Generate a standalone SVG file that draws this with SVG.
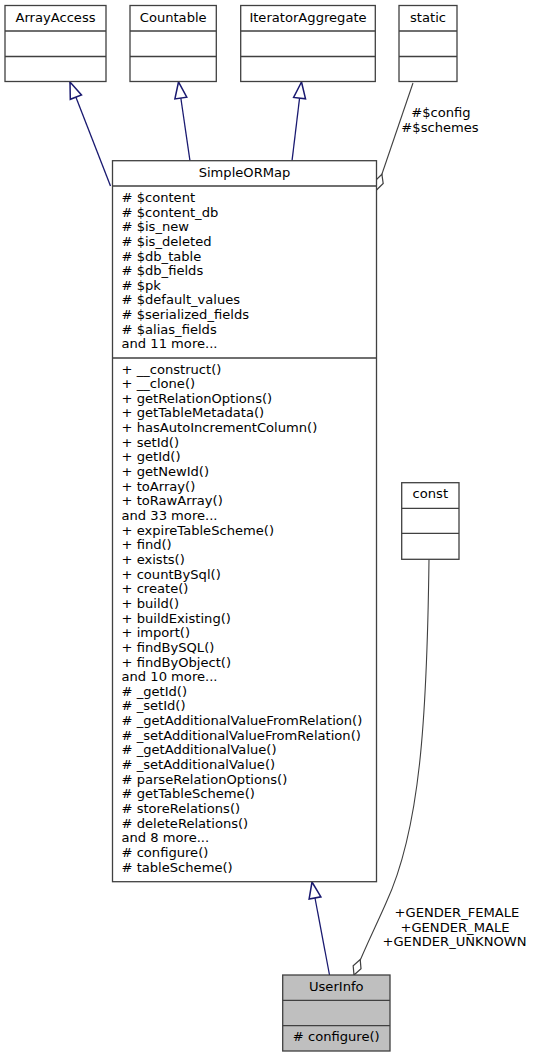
<svg xmlns="http://www.w3.org/2000/svg" width="533" height="1057" viewBox="0 0 533 1057">
<style>
text{font-family:"DejaVu Sans",sans-serif;font-size:13.1px;fill:#000}
.c{text-anchor:middle}
.box{fill:#fff;stroke:#404040;stroke-width:1.3}
.sep{stroke:#404040;stroke-width:1.3;fill:none}
.inh{fill:none;stroke:#191970;stroke-width:1.3}
.agg{fill:none;stroke:#404040;stroke-width:1.1}
</style>
<defs>
<marker id="tri" markerUnits="userSpaceOnUse" markerWidth="20" markerHeight="20" viewBox="-14 -7 16 14" refX="0" refY="0" orient="auto">
<path d="M0,0 L-13,-4.8 L-13,4.8 Z" fill="#fff" stroke="#191970" stroke-width="1.2"/>
</marker>
<marker id="dia" markerUnits="userSpaceOnUse" markerWidth="20" markerHeight="20" viewBox="-16 -6 18 12" refX="0" refY="0" orient="auto">
<path d="M0,0 L-7.5,-3.8 L-15,0 L-7.5,3.8 Z" fill="#fff" stroke="#404040" stroke-width="1.1"/>
</marker>
</defs>
<rect width="533" height="1057" fill="#fff"/>
<g id="edges">
<path class="inh" d="M110.5,186 L70,82" marker-end="url(#tri)"/>
<path class="inh" d="M190,161 L178.5,82" marker-end="url(#tri)"/>
<path class="inh" d="M292,161 L301.5,82" marker-end="url(#tri)"/>
<path class="inh" d="M329.5,975 L312,882" marker-end="url(#tri)"/>
<path class="agg" d="M413,83 L376.5,190" marker-end="url(#dia)"/>
<path class="agg" d="M429,559 C427,720 420,830 386,903 C376,926 366,945 354,975" marker-end="url(#dia)"/>
<text class="c" x="441" y="117">#$config</text>
<text class="c" x="440" y="131.7">#$schemes</text>
<text class="c" x="457" y="916.7">+GENDER_FEMALE</text>
<text class="c" x="455" y="931.5">+GENDER_MALE</text>
<text class="c" x="454.5" y="946">+GENDER_UNKNOWN</text>
</g>
<g id="ArrayAccess">
<rect class="box" x="5" y="5.5" width="101" height="76"/>
<path class="sep" d="M5,31 H106 M5,56.5 H106"/>
<text class="c" x="55.5" y="22">ArrayAccess</text>
</g>
<g id="Countable">
<rect class="box" x="130" y="5.5" width="86.3" height="76"/>
<path class="sep" d="M130,31 H216.3 M130,56.5 H216.3"/>
<text class="c" x="173.2" y="22">Countable</text>
</g>
<g id="IteratorAggregate">
<rect class="box" x="240.7" y="5.5" width="134.6" height="76"/>
<path class="sep" d="M240.7,31 H375.3 M240.7,56.5 H375.3"/>
<text class="c" x="308" y="22">IteratorAggregate</text>
</g>
<g id="static">
<rect class="box" x="399" y="5.5" width="58" height="76"/>
<path class="sep" d="M399,31 H457 M399,56.5 H457"/>
<text class="c" x="428" y="22">static</text>
</g>
<g id="SimpleORMap">
<rect class="box" x="112.5" y="160.7" width="264" height="721"/>
<path class="sep" d="M112.5,186 H376.5 M112.5,358 H376.5"/>
<text class="c" x="244.5" y="176.7">SimpleORMap</text>
<text x="121.5" y="202"># $content</text>
<text x="121.5" y="216.6"># $content_db</text>
<text x="121.5" y="231.3"># $is_new</text>
<text x="121.5" y="245.9"># $is_deleted</text>
<text x="121.5" y="260.5"># $db_table</text>
<text x="121.5" y="275.2"># $db_fields</text>
<text x="121.5" y="289.8"># $pk</text>
<text x="121.5" y="304.4"># $default_values</text>
<text x="121.5" y="319"># $serialized_fields</text>
<text x="121.5" y="333.7"># $alias_fields</text>
<text x="121.5" y="348.3">and 11 more...</text>
<text x="121.5" y="373.5">+ __construct()</text>
<text x="121.5" y="388.15">+ __clone()</text>
<text x="121.5" y="402.8">+ getRelationOptions()</text>
<text x="121.5" y="417.45">+ getTableMetadata()</text>
<text x="121.5" y="432.1">+ hasAutoIncrementColumn()</text>
<text x="121.5" y="446.75">+ setId()</text>
<text x="121.5" y="461.4">+ getId()</text>
<text x="121.5" y="476.05">+ getNewId()</text>
<text x="121.5" y="490.7">+ toArray()</text>
<text x="121.5" y="505.35">+ toRawArray()</text>
<text x="121.5" y="520">and 33 more...</text>
<text x="121.5" y="534.65">+ expireTableScheme()</text>
<text x="121.5" y="549.3">+ find()</text>
<text x="121.5" y="563.95">+ exists()</text>
<text x="121.5" y="578.6">+ countBySql()</text>
<text x="121.5" y="593.25">+ create()</text>
<text x="121.5" y="607.9">+ build()</text>
<text x="121.5" y="622.55">+ buildExisting()</text>
<text x="121.5" y="637.2">+ import()</text>
<text x="121.5" y="651.85">+ findBySQL()</text>
<text x="121.5" y="666.5">+ findByObject()</text>
<text x="121.5" y="681.15">and 10 more...</text>
<text x="121.5" y="695.8"># _getId()</text>
<text x="121.5" y="710.45"># _setId()</text>
<text x="121.5" y="725.1"># _getAdditionalValueFromRelation()</text>
<text x="121.5" y="739.75"># _setAdditionalValueFromRelation()</text>
<text x="121.5" y="754.4"># _getAdditionalValue()</text>
<text x="121.5" y="769.05"># _setAdditionalValue()</text>
<text x="121.5" y="783.7"># parseRelationOptions()</text>
<text x="121.5" y="798.35"># getTableScheme()</text>
<text x="121.5" y="813"># storeRelations()</text>
<text x="121.5" y="827.65"># deleteRelations()</text>
<text x="121.5" y="842.3">and 8 more...</text>
<text x="121.5" y="856.95"># configure()</text>
<text x="121.5" y="871.6"># tableScheme()</text>
</g>
<g id="const">
<rect class="box" x="401.7" y="482.7" width="57.3" height="76.6"/>
<path class="sep" d="M401.7,508.3 H459 M401.7,533.3 H459"/>
<text class="c" x="430.3" y="498">const</text>
</g>
<g id="UserInfo">
<rect class="box" x="282.7" y="975" width="107.3" height="76" style="fill:#bfbfbf"/>
<path class="sep" d="M282.7,1000.3 H390 M282.7,1025.7 H390"/>
<text class="c" x="336.3" y="991">UserInfo</text>
<text class="c" x="336.3" y="1040.7"># configure()</text>
</g>
</svg>
